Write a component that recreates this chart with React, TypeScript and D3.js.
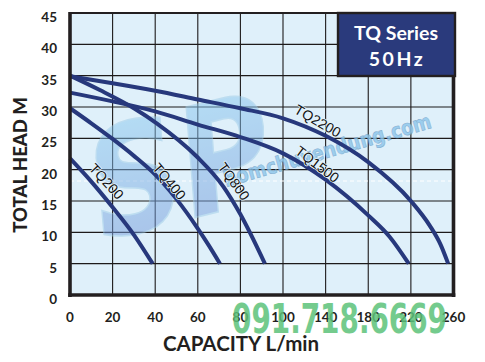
import React from "react";
import * as d3 from "d3";

const xTicks = [0, 20, 40, 60, 80, 100, 140, 180, 220, 260];
const yTicks = [0, 5, 10, 15, 20, 25, 30, 35, 40, 45];

const tq200 = [[0, 21.8], [10, 18.1], [20, 14], [30, 9.6], [38.8, 5]];
const tq400 = [[0, 29.8], [10, 27.4], [20, 24.9], [30, 22.2], [40, 19.2], [50, 15.3], [60, 10.6], [65, 8], [70.4, 5]];
const tq800 = [[0, 35], [14, 32.7], [30, 29.8], [40.7, 27.4], [59.5, 22.1], [72, 17.3], [79.8, 13], [91.5, 5]];
const tq1500 = [[0, 32.3], [20, 30.9], [40, 29.3], [60, 27.2], [80, 25.2], [100, 22.6], [140, 18.4], [180, 12.7], [200, 9.3], [218, 5]];
const tq2200 = [[0, 34.9], [20, 33.8], [40, 32.6], [60, 31.2], [80, 29.8], [100, 28.2], [140, 25.4], [180, 21.2], [220, 15], [238, 11], [248, 8], [255, 5]];

const seriesNames = ["TQ200", "TQ400", "TQ800", "TQ1500", "TQ2200"];
const seriesData = [tq200, tq400, tq800, tq1500, tq2200];
// label anchor in data units and rotation
const labelX = [16.7, 46.2, 76.5, 131.5, 132];
const labelY = [18, 18, 18, 20.7, 27.6];
const labelAngle = [47, 50, 54, 37, 30];

const W = 485, H = 362;
const L = 70, R = 453.5, T = 13, B = 295;

export default function App() {
  const x = d3.scaleLinear().domain([0, 100, 260]).range([L, 283, R]);
  const y = d3.scaleLinear().domain([0, 45]).range([B, T]);
  const line = d3.line<number[]>().x(d => x(d[0])).y(d => y(d[1])).curve(d3.curveMonotoneX);
  const navy = "#27387c";
  const font = "Lato, 'Open Sans', sans-serif";

  return (
    <svg width={W} height={H} style={{ position: "absolute", left: 0, top: 0 }}>
      <defs>
        <linearGradient id="spg" x1="0" y1="0" x2="0" y2="1">
          <stop offset="0" stopColor="#8fd3f4" />
          <stop offset="1" stopColor="#6f8fd6" />
        </linearGradient>
        <clipPath id="plotclip">
          <rect x={L} y={T} width={R - L} height={B - T} />
        </clipPath>
      </defs>
      <rect x={0} y={0} width={W} height={H} fill="#ffffff" />
      <rect x={L} y={T} width={R - L} height={B - T} fill="#dff0fa" />
      {/* grid */}
      {xTicks.slice(1, -1).map(t => (
        <line key={"gx" + t} x1={x(t)} x2={x(t)} y1={T} y2={B} stroke="#1d1a1a" strokeWidth={1.1} />
      ))}
      {yTicks.slice(1, -1).map(t => (
        <line key={"gy" + t} x1={L} x2={R} y1={y(t)} y2={y(t)} stroke="#1d1a1a" strokeWidth={1.1} />
      ))}
      <line x1={L} x2={R} y1={181} y2={181} stroke="#ffffff" strokeWidth={1} strokeDasharray="4,3" />
      {/* watermark SP */}
      <g clipPath="url(#plotclip)" opacity={0.5}>
        <text x={86} y={222} fontFamily="'DejaVu Sans', sans-serif" fontWeight={700} fontStyle="italic"
          fontSize={150} fill="url(#spg)" stroke="#9ccbe8" strokeWidth={1.5}
          transform="rotate(-14 170 160)" textLength={185} lengthAdjust="spacingAndGlyphs">SP</text>
      </g>
      <text x={226} y={187} fontFamily="'DejaVu Sans', sans-serif" fontWeight={700} fontSize={21}
        fill="#8cc6ec" stroke="#6fa0c8" strokeWidth={0.6} opacity={0.8}
        transform="rotate(-16 226 187)" textLength={215} lengthAdjust="spacingAndGlyphs">bomchuyendung.com</text>
      {/* curves */}
      {seriesData.map((s, i) => (
        <path key={seriesNames[i]} d={line(s as any) || ""} fill="none" stroke={navy} strokeWidth={4} />
      ))}
      {seriesNames.map((n, i) => (
        <text key={"l" + n} x={x(labelX[i])} y={y(labelY[i])} fontFamily="'Liberation Sans', Arial, sans-serif"
          fontSize={14} fill="#111" textAnchor="middle" dominantBaseline="middle"
          stroke="#e6f3fb" strokeWidth={1.5} paintOrder="stroke"
          transform={`rotate(${labelAngle[i]} ${x(labelX[i])} ${y(labelY[i])})`}>{n}</text>
      ))}
      {/* frame */}
      <line x1={L} x2={R + 2} y1={T} y2={T} stroke="#231f20" strokeWidth={2} />
      <line x1={L} x2={L} y1={T - 1} y2={B + 2} stroke="#231f20" strokeWidth={3.6} />
      <line x1={R} x2={R} y1={T - 1} y2={B + 2} stroke="#231f20" strokeWidth={3.6} />
      <line x1={L - 1.8} x2={R + 1.8} y1={B} y2={B} stroke="#231f20" strokeWidth={3.6} />
      {/* title box */}
      <rect x={338} y={13} width={117} height={63} fill="#2a3a7c" stroke="#231f20" strokeWidth={2.4} />
      <text x={396} y={39.5} textAnchor="middle" fill="#fff" fontFamily={font} fontWeight={700} fontSize={19.5}>TQ Series</text>
      <text x={397} y={65.5} textAnchor="middle" fill="#fff" fontFamily={font} fontWeight={700} fontSize={19.5} letterSpacing={2.5}>50Hz</text>
      {/* axes labels */}
      {yTicks.map(t => (
        <text key={"yt" + t} x={57} y={y(t) + 9} textAnchor="end" fontFamily={font} fontWeight={700} fontSize={13.5} fill="#231f20">{t}</text>
      ))}
      {xTicks.map(t => (
        <text key={"xt" + t} x={x(t)} y={322} textAnchor="middle" fontFamily={font} fontWeight={700} fontSize={13.5} fill="#231f20">{t}</text>
      ))}
      <text transform="translate(27 165) rotate(-90)" textAnchor="middle" fontFamily={font} fontWeight={900} fontSize={18.5} fill="#231f20">TOTAL HEAD M</text>
      <text x={241} y={351} textAnchor="middle" fontFamily={font} fontWeight={700} fontSize={20.5} fill="#231f20">CAPACITY L/min</text>
      {/* phone watermark */}
      <text x={232} y={333} fontFamily="'DejaVu Sans Condensed', 'DejaVu Sans', sans-serif" fontWeight={700} fontSize={41}
        fill="#5cc27a" opacity={0.85} textLength={215} lengthAdjust="spacingAndGlyphs">091.718.6669</text>
    </svg>
  );
}
